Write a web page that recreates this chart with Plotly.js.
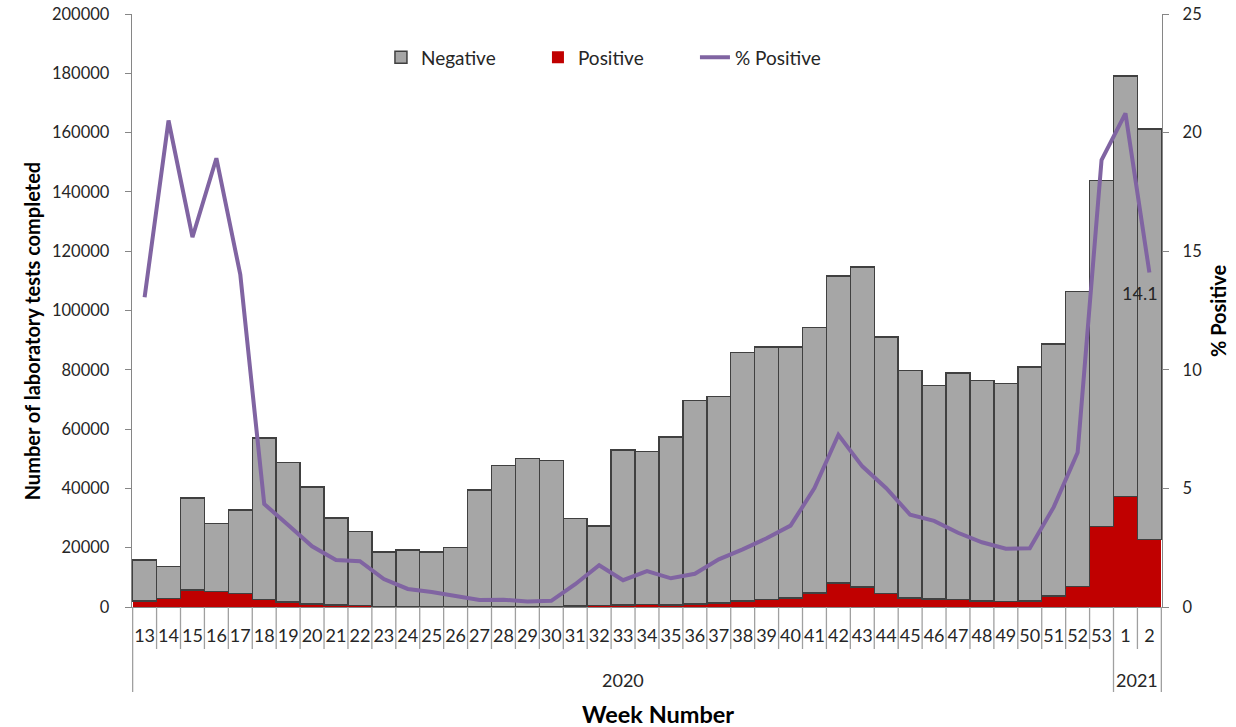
<!DOCTYPE html>
<html>
<head>
<meta charset="utf-8">
<script src="https://cdn.plot.ly/plotly-3.0.1.min.js"></script>
<style>html,body{margin:0;padding:0;background:#fff;}#chart{width:1236px;height:727px;}</style>
</head>
<body>
<div id="chart"></div>
<script>
// Week categories
const weeks = ['13','14','15','16','17','18','19','20','21','22','23','24','25','26','27','28','29','30','31','32','33','34','35','36','37','38','39','40','41','42','43','44','45','46','47','48','49','50','51','52','53','1','2'];
const years = ['2020','2021'];
const yearOfWeek = ['2020','2020','2020','2020','2020','2020','2020','2020','2020','2020','2020','2020','2020','2020','2020','2020','2020','2020','2020','2020','2020','2020','2020','2020','2020','2020','2020','2020','2020','2020','2020','2020','2020','2020','2020','2020','2020','2020','2020','2020','2020','2021','2021'];

// Negative tests per week
const negative = [13700,10900,31000,22800,28150,54550,47050,39450,29500,24950,18280,19150,18380,20010,39330,47550,49980,49270,29510,26920,52400,51710,56710,68720,69570,83710,85160,84690,89580,103590,107950,86540,76600,72040,76530,74310,73550,78990,85010,99430,116710,141870,138430];
// Positive tests per week
const positive = [2100,2800,5750,5300,4600,2500,1700,1050,600,500,220,150,120,90,120,150,120,130,290,480,600,790,690,980,1430,2090,2540,3010,4720,8110,6800,4560,3100,2710,2470,2090,1850,2010,3740,6920,27090,37280,22720];
// % positive per week
const pctPositive = [13.06,20.51,15.59,18.92,14.01,4.34,3.46,2.56,1.98,1.93,1.18,0.76,0.63,0.46,0.30,0.31,0.23,0.26,0.96,1.76,1.13,1.51,1.21,1.40,2.01,2.43,2.90,3.43,5.01,7.26,5.93,5.01,3.89,3.63,3.13,2.73,2.46,2.48,4.21,6.51,18.84,20.81,14.1];

const FONT = 'Lato, "Open Sans", sans-serif';
const TXT = '#262626';
const AXC = '#868686';

const traces = [
  {type:'bar', name:'Positive', x:weeks, y:positive, legendrank:2,
   marker:{color:'#C00000', line:{width:0}}, hoverinfo:'x+y'},
  {type:'bar', name:'Negative', x:weeks, y:negative, legendrank:1,
   marker:{color:'#A6A6A6', line:{color:'#404040', width:1.5}}, hoverinfo:'x+y'},
  {type:'scatter', mode:'lines', name:'% Positive', x:weeks, y:pctPositive, yaxis:'y2', legendrank:3,
   line:{color:'#8064A2', width:4}}
];

// separators below the category axis
const shapes = [];
const lastIdx = weeks.length - 1;
const firstNewYear = yearOfWeek.indexOf(years[1]);
for (let i = 0; i <= weeks.length; i++) {
  const pos = i - 0.5;
  const long = (i === 0 || i === weeks.length || i === firstNewYear);
  shapes.push({type:'line', xref:'x', yref:'paper', x0:pos, x1:pos, y0:0, y1: long ? -0.1433 : -0.0708,
    line:{color:'#A0A0A0', width:1.3}});
}

const annotations = [];
years.forEach(yr => {
  const first = yearOfWeek.indexOf(yr);
  const last = yearOfWeek.lastIndexOf(yr);
  annotations.push({xref:'x', yref:'paper', x:(first+last)/2, y:-0.123, text:yr, showarrow:false,
    font:{family:FONT, size:18, color:TXT}, xanchor:'center', yanchor:'middle'});
});
annotations.push({xref:'x', yref:'y2', x:lastIdx, y:pctPositive[lastIdx], text:String(pctPositive[lastIdx]),
  showarrow:false, yshift:-20, xshift:-9, xanchor:'center', yanchor:'middle', font:{family:FONT, size:18, color:TXT}});
annotations.push({xref:'paper', yref:'paper', x:0.511, y:-0.180, text:'<b>Week Number</b>', showarrow:false,
  xanchor:'center', yanchor:'middle', font:{family:FONT, size:23.5, color:'#000'}});
annotations.push({xref:'paper', yref:'paper', x:-0.097, y:0.465, text:'<b>Number of laboratory tests completed</b>',
  showarrow:false, textangle:-90, xanchor:'center', yanchor:'middle', font:{family:FONT, size:20, color:'#000'}});
annotations.push({xref:'paper', yref:'paper', x:1.0544, y:0.499, text:'<b>% Positive</b>',
  showarrow:false, textangle:-90, xanchor:'center', yanchor:'middle', font:{family:FONT, size:20, color:'#000'}});

const layout = {
  width:1236, height:727,
  margin:{l:132, r:74, t:14, b:120},
  paper_bgcolor:'#fff', plot_bgcolor:'#fff',
  barmode:'stack', bargap:0,
  font:{family:FONT, color:TXT},
  showlegend:true,
  legend:{orientation:'h', traceorder:'normal', x:0.2417, xanchor:'left', y:0.927, yanchor:'middle',
    font:{family:FONT, size:19, color:TXT}, entrywidth:112, entrywidthmode:'pixels', bgcolor:'rgba(0,0,0,0)'},
  xaxis:{type:'category', showline:true, linecolor:AXC, linewidth:1.3, ticks:'', showgrid:false,
    tickfont:{family:FONT, size:18, color:TXT}, ticklabelstandoff:12, zeroline:false},
  yaxis:{range:[0,200000], dtick:20000, showgrid:false, zeroline:false, showline:true, linecolor:AXC, linewidth:1.3,
    ticks:'outside', ticklen:6, tickcolor:AXC, tickfont:{family:FONT, size:16.5, color:TXT}, ticklabelstandoff:12,
    tickformat:'d'},
  yaxis2:{range:[0,25], dtick:5, overlaying:'y', side:'right', showgrid:false, zeroline:false, showline:true,
    linecolor:AXC, linewidth:1.3, ticks:'outside', ticklen:6, tickcolor:AXC,
    tickfont:{family:FONT, size:16.5, color:TXT}, ticklabelstandoff:10},
  shapes:shapes,
  annotations:annotations
};

Plotly.newPlot('chart', traces, layout, {displayModeBar:false, staticPlot:true});
</script>
</body>
</html>
